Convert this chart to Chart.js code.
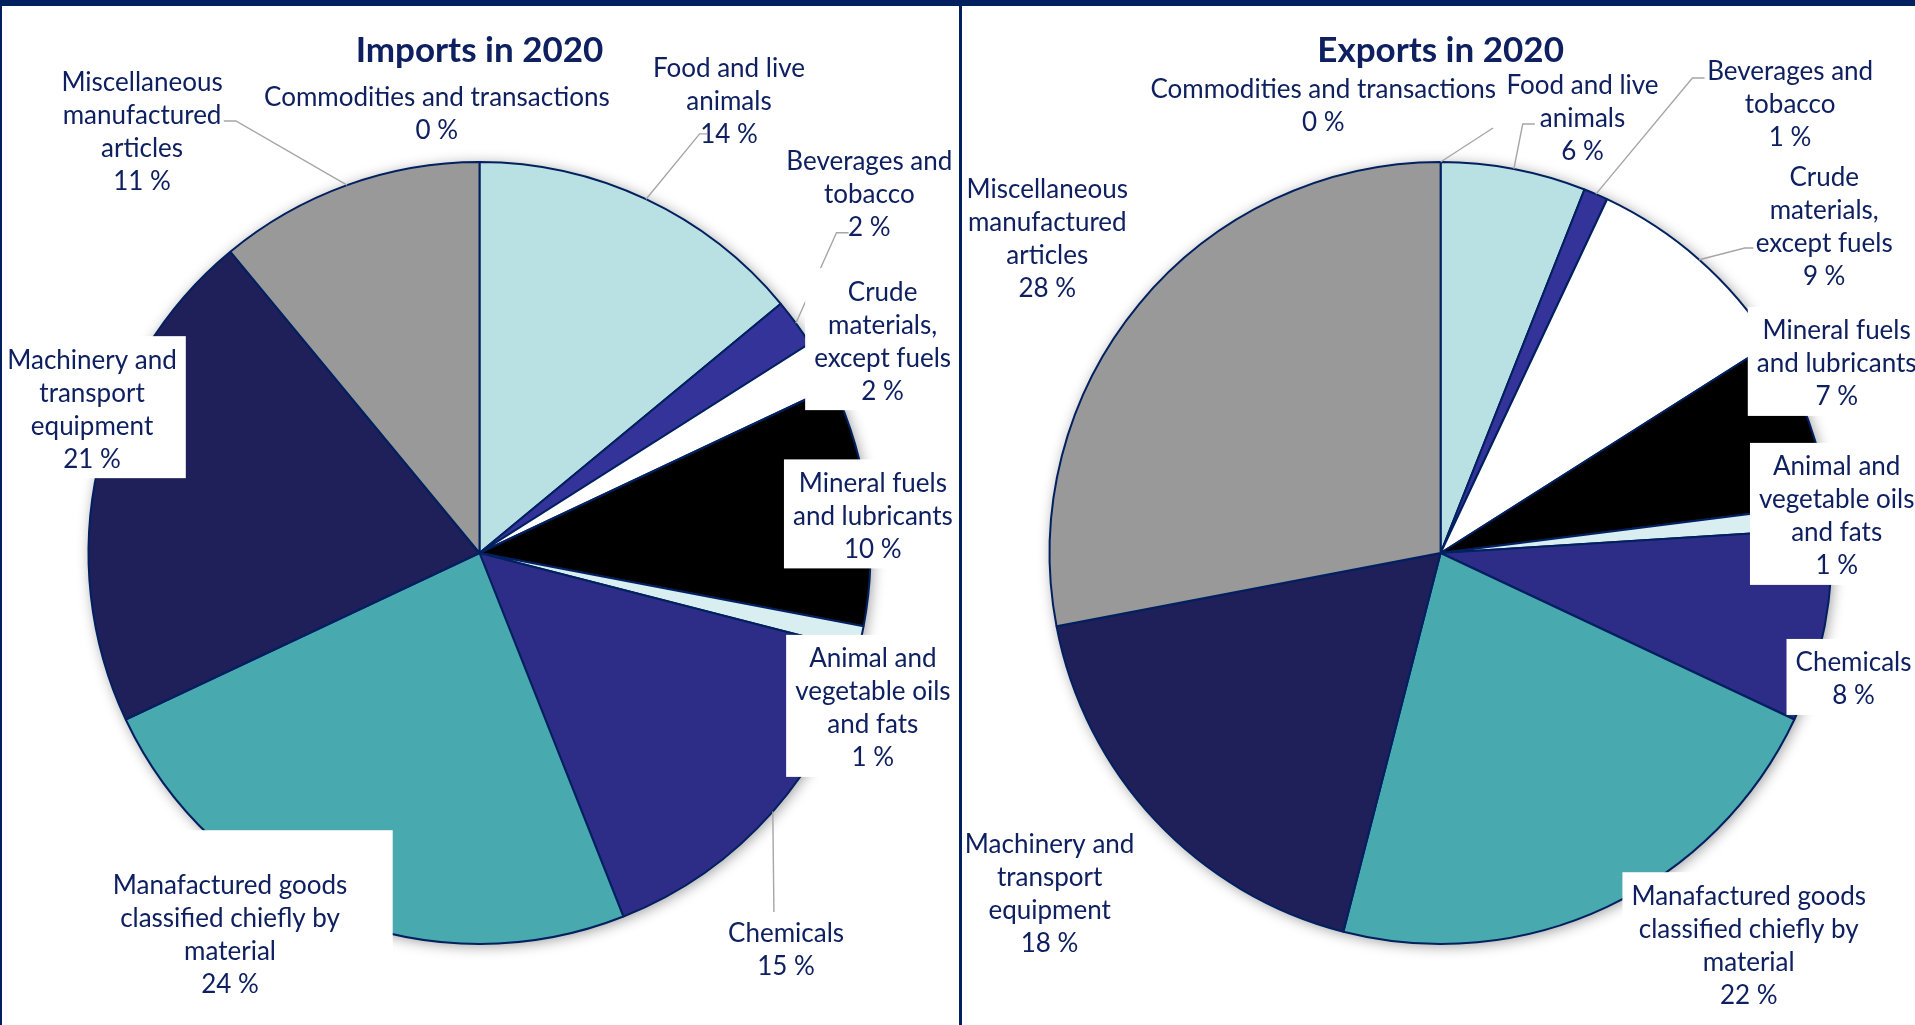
<!DOCTYPE html>
<html>
<head>
<meta charset="utf-8">
<title>Imports and exports in 2020</title>
<script src="https://cdn.jsdelivr.net/npm/chart.js@4.4.0/dist/chart.umd.min.js"></script>
<style>
  html, body { margin: 0; padding: 0; background: #fff; overflow: hidden; }
  #page { position: relative; width: 1915px; height: 1025px; }
  .panel { position: absolute; top: 0; height: 1025px; }
  #importsPanel { left: 0; width: 960px; }
  #exportsPanel { left: 960px; width: 955px; }
  .rule { position: absolute; background: #002060; }
</style>
</head>
<body>
<div id="page">
  <div class="panel" id="importsPanel"><canvas id="importsChart" width="960" height="1025"></canvas></div>
  <div class="panel" id="exportsPanel"><canvas id="exportsChart" width="955" height="1025"></canvas></div>
  <div class="rule" style="left:0;top:0;width:1915px;height:6px"></div>
  <div class="rule" style="left:0;top:0;width:2px;height:1025px"></div>
  <div class="rule" style="left:959px;top:0;width:3px;height:1025px"></div>
</div>

<script>
// SITC sections, in code order 0..9
const categories = [
    ["Food and live", "animals"],
    ["Beverages and", "tobacco"],
    ["Crude", "materials,", "except fuels"],
    ["Mineral fuels", "and lubricants"],
    ["Animal and", "vegetable oils", "and fats"],
    ["Chemicals"],
    ["Manafactured goods", "classified chiefly by", "material"],
    ["Machinery and", "transport", "equipment"],
    ["Miscellaneous", "manufactured", "articles"],
    ["Commodities and transactions"]
];

// share of total trade, %
const imports2020 = [14, 2, 2, 10, 1, 15, 24, 21, 11, 0];
const exports2020 = [6, 1, 9, 7, 1, 8, 22, 18, 28, 0];

const sliceColors = [
    "#b9e0e3", "#333399", "#ffffff", "#000000", "#d9eef1",
    "#2d2d87", "#48a9ae", "#1f1f5a", "#999999", "#c8c8c8"
];

const NAVY = "#002060";
const TEXT_COLOR = "#0f2060";
const LEADER_COLOR = "#a6a6a6";

const CANVAS_H = 1025;
const PIE_RADIUS = 391;
const PIE_CENTER_Y = 553;
const BORDER_W = 2;
const TITLE_SIZE = 35;
const TITLE_MID_Y = 50.5;
const LABEL_SIZE = 26;
const LABEL_LINE = 33;
const LABEL_NUDGE = 2.5;   // Lato sits a little high on a "middle" baseline
const BOX_PAD_X = 9;
const BOX_PAD_Y = 5;

// label centres and leader anchors, in units of the pie radius from the pie centre
const importsLayout = {
    positions: [
        [0.638, -1.161], [0.997, -0.922], [1.031, -0.547], [1.006, -0.100], [1.006, 0.391],
        [0.784, 1.009], [-0.638, 0.972], [-0.991, -0.373], [-0.863, -1.083], [-0.109, -1.130]
    ],
    // [anchor dx, anchor dy, horizontal tick] relative to the label centre
    leaders: [
        [-0.056, 0.089, -0.019], [-0.053, 0.103, -0.031], null, null, null,
        [-0.031, -0.091, 0], null, null, [0.209, -0.022, 0.031], null
    ],
    filled: [false, false, true, true, true, false, true, true, false, false],
    boxes: { 6: [-0.33, -0.263, 0.416, 0.2] }
};

const exportsLayout = {
    positions: [
        [0.363, -1.118], [0.894, -1.152], [0.981, -0.839], [1.013, -0.490], [1.013, -0.100],
        [1.056, 0.317], [0.788, 0.998], [-1.000, 0.865], [-1.006, -0.809], [-0.300, -1.150]
    ],
    leaders: [
        [-0.122, 0.021, -0.031], [-0.219, -0.063, -0.031], [-0.181, 0.059, -0.022], null, null,
        null, null, null, null, [0.434, 0.063, 0]
    ],
    filled: [false, false, false, true, true, true, true, false, false, false],
    boxes: {}
};

function pieCentre(chart) {
    const arc = chart.getDatasetMeta(0).data[0];
    return arc.getProps(["x", "y", "outerRadius"], true);
}

// soft halo behind the whole pie
const pieShadow = {
    id: "pieShadow",
    beforeDatasetsDraw(chart) {
        const { x, y, outerRadius } = pieCentre(chart);
        const ctx = chart.ctx;
        ctx.save();
        ctx.shadowColor = "rgba(0, 0, 0, 0.4)";
        ctx.shadowBlur = 14;
        ctx.shadowOffsetX = 2;
        ctx.shadowOffsetY = 2;
        ctx.fillStyle = "#fff";
        ctx.beginPath();
        ctx.arc(x, y, outerRadius, 0, Math.PI * 2);
        ctx.fill();
        ctx.restore();
    }
};

// data labels with leader lines; some labels sit on a white box over the pie
const sliceLabels = {
    id: "sliceLabels",
    afterDatasetsDraw(chart, args, opts) {
        const ctx = chart.ctx;
        const arcs = chart.getDatasetMeta(0).data;
        const values = chart.data.datasets[0].data;
        const { x: cx, y: cy, outerRadius: r } = pieCentre(chart);

        ctx.save();
        ctx.font = LABEL_SIZE + "px Lato";
        const items = chart.data.labels.map((name, i) => {
            const lines = [...name, values[i] + " %"];
            const x = cx + opts.positions[i][0] * r;
            const y = cy + opts.positions[i][1] * r;
            const w = Math.max(...lines.map(t => ctx.measureText(t).width));
            const h = lines.length * LABEL_LINE;
            let box = [x - w / 2 - BOX_PAD_X, y - h / 2 - BOX_PAD_Y, x + w / 2 + BOX_PAD_X, y + h / 2 + BOX_PAD_Y];
            const o = opts.boxes[i];
            if (o) box = [x + o[0] * r, y + o[1] * r, x + o[2] * r, y + o[3] * r];
            return { lines, x, y, box };
        });

        // leaders first, so the white boxes can cover them
        ctx.strokeStyle = LEADER_COLOR;
        ctx.lineWidth = 1.4;
        opts.leaders.forEach((ld, i) => {
            if (!ld) return;
            const a = arcs[i];
            const mid = (a.startAngle + a.endAngle) / 2;
            const sx = items[i].x + ld[0] * r;
            const sy = items[i].y + ld[1] * r;
            ctx.beginPath();
            ctx.moveTo(sx, sy);
            ctx.lineTo(sx + ld[2] * r, sy);
            ctx.lineTo(cx + Math.cos(mid) * r, cy + Math.sin(mid) * r);
            ctx.stroke();
        });

        ctx.fillStyle = "#fff";
        items.forEach((it, i) => {
            if (!opts.filled[i]) return;
            const [l, t, rr, b] = it.box;
            ctx.fillRect(l, t, rr - l, b - t);
        });

        ctx.fillStyle = TEXT_COLOR;
        ctx.textAlign = "center";
        ctx.textBaseline = "middle";
        items.forEach(it => {
            const n = it.lines.length;
            it.lines.forEach((t, k) => {
                ctx.fillText(t, it.x, it.y + LABEL_NUDGE + (k - (n - 1) / 2) * LABEL_LINE);
            });
        });
        ctx.restore();
    }
};

function renderPie(canvasId, title, values, centreX, labelLayout) {
    const canvas = document.getElementById(canvasId);
    const half = PIE_RADIUS + BORDER_W / 2;
    const titleLine = TITLE_SIZE * 1.2;

    return new Chart(canvas, {
        type: "pie",
        data: {
            labels: categories,
            datasets: [{
                data: values,
                backgroundColor: sliceColors,
                borderColor: NAVY,
                borderWidth: BORDER_W,
            }]
        },
        options: {
            responsive: false,
            animation: false,
            events: [],
            layout: {
                padding: {
                    left: centreX - half,
                    right: canvas.width - centreX - half,
                    top: 0,
                    bottom: CANVAS_H - PIE_CENTER_Y - half,
                }
            },
            plugins: {
                legend: { display: false },
                tooltip: { enabled: false },
                title: {
                    display: true,
                    text: title,
                    color: TEXT_COLOR,
                    font: { family: "Lato", size: TITLE_SIZE, weight: "bold", lineHeight: 1.2 },
                    padding: {
                        top: TITLE_MID_Y - titleLine / 2,
                        bottom: PIE_CENTER_Y - half - TITLE_MID_Y - titleLine / 2,
                    }
                },
                sliceLabels: labelLayout,
            }
        },
        plugins: [pieShadow, sliceLabels]
    });
}

function drawAll() {
    Chart.defaults.font.family = "Lato";
    renderPie("importsChart", "Imports in 2020", imports2020, 479.5, importsLayout);
    renderPie("exportsChart", "Exports in 2020", exports2020, 480.6, exportsLayout);
}

Promise.all([
    document.fonts.load(LABEL_SIZE + "px Lato"),
    document.fonts.load("bold " + TITLE_SIZE + "px Lato"),
]).then(drawAll, drawAll);
</script>
</body>
</html>
